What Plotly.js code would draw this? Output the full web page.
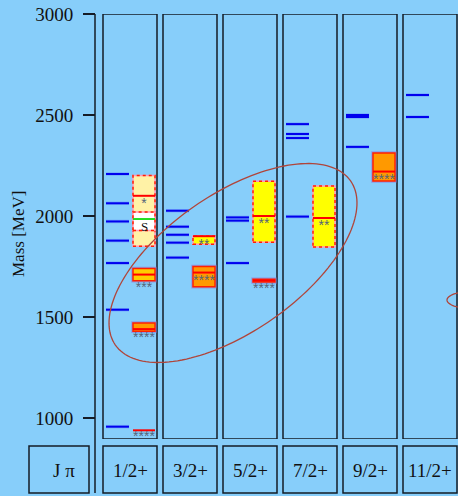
<!DOCTYPE html>
<html><head><meta charset="utf-8">
<script src="https://cdn.plot.ly/plotly-3.0.1.min.js"></script>
<style>html,body{margin:0;padding:0;background:#87cefa;}</style>
</head><body><div id="chart" style="width:458px;height:496px;"></div>
<script>
// ---- data ----
const columns = ['1/2+','3/2+','5/2+','7/2+','9/2+','11/2+'];
const modelCol  = [0,0,0,0,0,0,0, 1,1,1,1,1, 2,2,2, 3,3,3,3, 4,4,4, 5,5];
const modelMass = [957,1536,1767,1878,1973,2063,2208, 1794,1868,1907,1947,2026, 1767,1977,1993, 1997,2386,2406,2455, 2342,2490,2500, 2490,2599];
const expCol   = [0,0,0,0,1,1,2,2,3,4];
const expMass  = [939,1440,1710,2100,1720,1900,1680,2000,1990,2220];
const expLow   = [939,1430,1680,1850,1650,1860,1673,1870,1847,2173];
const expHigh  = [939,1470,1740,2200,1750,1900,1687,2172,2149,2312];
const expStars = ['****','****','***','*','****','**','****','**','**','****'];
const starsInside = [false,false,false,true,true,true,false,true,true,true];
const sCol = 0, sLow = 1928, sHigh = 2020, sMass = 1985, sLabel = 'S';
const yTicks = [1000,1500,2000,2500,3000];
const yRange = [896,3000];

// ---- geometry helpers (pixel layout) ----
const W = 458, H = 496;
const px = x => x / W, py = y => 1 - y / H;
const half = 0.45;            // panel half width (column units)
const mL = -0.4, mR = -0.017; // model line span
const eL = 0.05, eR = 0.417;  // experiment box span

// model lines
const mx = [], my = [];
modelCol.forEach((c, i) => { mx.push(c + mL, c + mR, null); my.push(modelMass[i], modelMass[i], null); });
// experiment mass lines
const rx = [], ry = [];
expCol.forEach((c, i) => { rx.push(c + eL, c + eR, null); ry.push(expMass[i], expMass[i], null); });

// star labels (asterisk glyph sits high in the em box: shift anchor down)
const glyphShift = 16;
const starX = [], starY = [];
expCol.forEach((c, i) => {
  starX.push(c + (eL + eR) / 2);
  starY.push((starsInside[i] ? expMass[i] - 28 : expLow[i] - 22) - glyphShift);
});

const shapes = [];
const edge = '#151c26';
columns.forEach((_, i) => {
  shapes.push({type:'rect', xref:'x', yref:'y', x0:i-half, x1:i+half, y0:yRange[0], y1:yRange[1],
    line:{color:edge, width:1.5}, layer:'below'});
  shapes.push({type:'rect', xref:'x', yref:'paper', x0:i-half, x1:i+half, y0:py(493), y1:py(446),
    line:{color:edge, width:1.5}, layer:'below'});
});
shapes.push({type:'rect', xref:'paper', yref:'paper', x0:px(29), x1:px(89), y0:py(493), y1:py(446),
  line:{color:edge, width:1.5}, layer:'below'});
shapes.push({type:'line', xref:'paper', yref:'paper', x0:px(95), x1:px(95), y0:py(493), y1:py(14),
  line:{color:edge, width:1.5}});

// experiment boxes
const fillFor = s => s === '****' ? '#ff9900' : s === '***' ? '#ffcc00' : s === '**' ? '#ffff00' : '#fff2a6';
expCol.forEach((c, i) => {
  if (expHigh[i] === expLow[i]) return;
  const s = expStars[i];
  if (s.length >= 3) {
    shapes.push({type:'rect', xref:'x', yref:'y', x0:c+eL, x1:c+eR, y0:expLow[i], y1:expHigh[i],
      fillcolor:'rgba(0,0,0,0)', line:{color:'rgba(150,110,210,0.55)', width:3.5}, layer:'below'});
    shapes.push({type:'rect', xref:'x', yref:'y', x0:c+eL, x1:c+eR, y0:expLow[i], y1:expHigh[i],
      fillcolor:fillFor(s), line:{color:'#ff2200', width:1.5}, layer:'below'});
  } else {
    shapes.push({type:'rect', xref:'x', yref:'y', x0:c+eL, x1:c+eR, y0:expLow[i], y1:expHigh[i],
      fillcolor:fillFor(s), line:{color:'#ff99bb', width:1.5}, layer:'below'});
    shapes.push({type:'rect', xref:'x', yref:'y', x0:c+eL, x1:c+eR, y0:expLow[i], y1:expHigh[i],
      fillcolor:'rgba(0,0,0,0)', line:{color:'#ff2200', width:1.5, dash:'dot'}, layer:'below'});
  }
});
// S box
shapes.push({type:'rect', xref:'x', yref:'y', x0:sCol+eL, x1:sCol+eR, y0:sLow, y1:sHigh,
  fillcolor:'#ffffff', line:{color:'#ff99bb', width:1.5}, layer:'below'});
shapes.push({type:'rect', xref:'x', yref:'y', x0:sCol+eL, x1:sCol+eR, y0:sLow, y1:sHigh,
  fillcolor:'rgba(0,0,0,0)', line:{color:'#ff2200', width:1.5, dash:'dot'}, layer:'below'});

// ellipses
function ellipse(cx, cy, a, b, thDeg, n) {
  const th = thDeg * Math.PI / 180; let d = '';
  for (let k = 0; k <= n; k++) {
    const t = 2 * Math.PI * k / n;
    const x = cx + a * Math.cos(t) * Math.cos(th) - b * Math.sin(t) * Math.sin(th);
    const y = cy - (a * Math.cos(t) * Math.sin(th) + b * Math.sin(t) * Math.cos(th));
    d += (k === 0 ? 'M' : 'L') + px(x).toFixed(5) + ',' + py(y).toFixed(5);
  }
  return d + 'Z';
}
shapes.push({type:'path', xref:'paper', yref:'paper', path:ellipse(233, 263, 143.4, 68.6, 34.9, 160),
  line:{color:'#b0453a', width:1.3}});
shapes.push({type:'path', xref:'paper', yref:'paper', path:ellipse(475, 300, 28, 9, 0, 60),
  line:{color:'#b0453a', width:1.3}});

const serif = 'Liberation Serif, Times New Roman, serif';
const annotations = [];
columns.forEach((lab, i) => annotations.push({xref:'x', yref:'paper', x:i, y:py(470), text:lab, showarrow:false,
  font:{family:serif, size:19, color:'#111'}, xanchor:'center', yanchor:'middle'}));
annotations.push({xref:'paper', yref:'paper', x:px(64), y:py(470), text:'J π', showarrow:false,
  font:{family:serif, size:19, color:'#111'}, xanchor:'center', yanchor:'middle'});
annotations.push({xref:'paper', yref:'paper', x:px(18), y:py(234), text:'Mass [MeV]', textangle:-90, showarrow:false,
  font:{family:serif, size:17, color:'#111'}, xanchor:'center', yanchor:'middle'});
annotations.push({xref:'x', yref:'y', x:sCol+(eL+eR)/2, y:(sLow+sMass)/2 - 8, text:sLabel, showarrow:false,
  font:{family:serif, size:13, color:'#111'}, xanchor:'center', yanchor:'middle'});

const traces = [
  {type:'scatter', mode:'lines', x:mx, y:my, line:{color:'rgba(90,120,255,0.4)', width:3.5}, hoverinfo:'skip'},
  {type:'scatter', mode:'lines', x:mx, y:my, line:{color:'#0000ee', width:2}, hoverinfo:'skip'},
  {type:'scatter', mode:'lines', x:rx, y:ry, line:{color:'#ff0000', width:2}, hoverinfo:'skip'},
  {type:'scatter', mode:'lines', x:[sCol+eL, sCol+eR], y:[sMass, sMass], line:{color:'#22dd22', width:2}, hoverinfo:'skip'},
  {type:'scatter', mode:'text', x:starX, y:starY, text:expStars, textposition:'middle center',
    textfont:{family:'Liberation Sans, Arial, sans-serif', size:14, color:'#55657a'}, hoverinfo:'skip'}
];

const layout = {
  width:W, height:H, margin:{l:0, r:0, t:0, b:0},
  paper_bgcolor:'#87cefa', plot_bgcolor:'#87cefa', showlegend:false,
  xaxis:{range:[-130/60, (W-130)/60], visible:false, fixedrange:true},
  yaxis:{range:yRange, domain:[py(439), py(14)], anchor:'free', position:px(95), side:'left',
    tickvals:yTicks, ticktext:yTicks.map(String), ticks:'outside', ticklen:12, tickwidth:1.5, tickcolor:edge,
    ticklabelstandoff:6,
    showgrid:false, zeroline:false, showline:false, tickfont:{family:serif, size:19, color:'#111'}, fixedrange:true},
  shapes:shapes, annotations:annotations
};
Plotly.newPlot('chart', traces, layout, {displayModeBar:false, staticPlot:true});
</script></body></html>
